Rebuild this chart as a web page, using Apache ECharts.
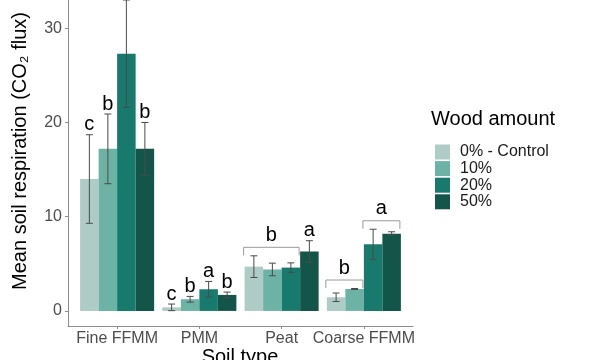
<!DOCTYPE html>
<html>
<head>
<meta charset="utf-8">
<script src="https://cdn.jsdelivr.net/npm/echarts@6/dist/echarts.min.js"></script>
<style>html,body{margin:0;padding:0;background:#fff}#c{width:600px;height:360px}</style>
</head>
<body>
<div id="c"></div>
<script>
// ---- data ----
var categories = ['Fine FFMM', 'PMM', 'Peat', 'Coarse FFMM'];
var seriesNames = ['0% - Control', '10%', '20%', '50%'];
var mean0  = [14.0, 0.38, 4.7, 1.45];
var mean10 = [17.2, 1.24, 4.4, 2.33];
var mean20 = [27.3, 2.3, 4.6, 7.07];
var mean50 = [17.2, 1.7, 6.3, 8.2];
var se0  = [4.7, 0.35, 1.15, 0.45];
var se10 = [3.7, 0.3, 0.67, 0.05];
var se20 = [5.7, 0.83, 0.5, 1.6];
var se50 = [2.8, 0.3, 1.15, 0.2];
var yTicks = [0, 10, 20, 30];
// single letters: [category index, series index, letter]
var letters = [
  [0, 0, 'c'], [0, 1, 'b'], [0, 2, 'a'], [0, 3, 'b'],
  [1, 0, 'c'], [1, 1, 'b'], [1, 2, 'a'], [1, 3, 'b'],
  [2, 3, 'a']
];
// bracket groups: [category index, first series, last series, letter]
var brackets = [
  [2, 0, 2, 'b'],
  [3, 0, 1, 'b'],
  [3, 2, 3, 'a']
];

var colors = ['#aecbc6', '#6cb3a5', '#177a6c', '#135649'];
var means = [mean0, mean10, mean20, mean50];
var ses = [se0, se10, se20, se50];
var FONT = 'Liberation Sans, Arial, sans-serif';
var YMIN = -1.6, YMAX = 33;

function offs(s) { return -0.3375 + 0.225 * s; }

var errData = [];
for (var s = 0; s < 4; s++) for (var c = 0; c < 4; c++) errData.push([c, s, means[s][c], ses[s][c]]);

var chart = echarts.init(document.getElementById('c'), null, {renderer: 'canvas'});

var series = [];
for (var i = 0; i < 4; i++) {
  series.push({
    type: 'bar', name: seriesNames[i], data: means[i],
    xAxisIndex: 1, yAxisIndex: 1,
    barCategoryGap: '10%', barGap: '0%',
    itemStyle: {color: colors[i]}, emphasis: {disabled: true}, silent: true
  });
}
series.push({
  type: 'custom', xAxisIndex: 1, yAxisIndex: 1, silent: true, z: 5,
  data: errData,
  renderItem: function (params, api) {
    var cat = api.value(0), s = api.value(1), m = api.value(2), e = api.value(3);
    var band = api.size([1, 0])[0];
    var cx = api.coord([cat, 0])[0] + offs(s) * band;
    var yt = api.coord([cat, m + e])[1], yb = api.coord([cat, m - e])[1];
    var hw = 3.5;
    var st = {stroke: '#4a4a4a', lineWidth: 1};
    return {type: 'group', children: [
      {type: 'line', shape: {x1: cx, y1: yt, x2: cx, y2: yb}, style: st},
      {type: 'line', shape: {x1: cx - hw, y1: yt, x2: cx + hw, y2: yt}, style: st},
      {type: 'line', shape: {x1: cx - hw, y1: yb, x2: cx + hw, y2: yb}, style: st}
    ]};
  }
});
series.push({
  type: 'custom', xAxisIndex: 1, yAxisIndex: 1, silent: true, z: 6,
  data: letters.map(function (l) { return [l[0], l[1]]; }),
  renderItem: function (params, api) {
    var l = letters[params.dataIndex];
    var cat = l[0], s = l[1];
    var band = api.size([1, 0])[0];
    var cx = api.coord([cat, 0])[0] + offs(s) * band;
    var yt = api.coord([cat, means[s][cat] + ses[s][cat]])[1];
    return {type: 'text', x: cx, y: yt, style: {text: l[2], fill: '#000', font: '20px ' + FONT, align: 'center', verticalAlign: 'bottom'}};
  }
});
series.push({
  type: 'custom', xAxisIndex: 1, yAxisIndex: 1, silent: true, z: 6,
  data: brackets.map(function (b) { return [b[0], b[1]]; }),
  renderItem: function (params, api) {
    var b = brackets[params.dataIndex];
    var cat = b[0];
    var band = api.size([1, 0])[0];
    var bw = 0.225 * band;
    var c0 = api.coord([cat, 0])[0];
    var x1 = c0 + offs(b[1]) * band - bw / 2 - 1;
    var x2 = c0 + offs(b[2]) * band + bw / 2 - 1;
    var top = -Infinity;
    for (var s = b[1]; s <= b[2]; s++) top = Math.max(top, means[s][cat] + ses[s][cat]);
    var y = api.coord([cat, top + 0.9])[1];
    var st = {stroke: '#9a9a9a', lineWidth: 1, fill: null};
    return {type: 'group', children: [
      {type: 'polyline', shape: {points: [[x1, y + 8], [x1, y], [x2, y], [x2, y + 8]]}, style: st},
      {type: 'text', x: (x1 + x2) / 2, y: y - 2, style: {text: b[3], fill: '#000', font: '20px ' + FONT, align: 'center', verticalAlign: 'bottom'}}
    ]};
  }
});

chart.setOption({
  animation: false,
  backgroundColor: '#fff',
  grid: [
    {left: 68, right: 187, top: 0, bottom: 34},
    {left: 76, right: 195, top: 0, bottom: 34}
  ],
  xAxis: [
    {type: 'value', gridIndex: 0, min: 0, max: 1,
     axisLine: {show: true, onZero: false, lineStyle: {color: '#8c8c8c', width: 1}},
     axisTick: {show: false}, axisLabel: {show: false}, splitLine: {show: false}},
    {type: 'category', gridIndex: 1, data: categories,
     axisLine: {show: false, onZero: false},
     axisTick: {show: true, alignWithLabel: true, length: 3, interval: 0, lineStyle: {color: '#8c8c8c'}},
     axisLabel: {fontSize: 16, color: '#4d4d4d', fontFamily: FONT, margin: 5, interval: 0, hideOverlap: false}}
  ],
  yAxis: [
    {type: 'value', gridIndex: 0, min: YMIN, max: YMAX,
     axisLine: {show: true, onZero: false, lineStyle: {color: '#8c8c8c', width: 1}},
     axisTick: {show: true, length: 3, customValues: yTicks, lineStyle: {color: '#8c8c8c'}},
     axisLabel: {fontSize: 16, color: '#4d4d4d', fontFamily: FONT, margin: 6, customValues: yTicks},
     splitLine: {show: false}},
    {type: 'value', gridIndex: 1, min: YMIN, max: YMAX, show: false, splitLine: {show: false}}
  ],
  legend: {
    data: seriesNames, orient: 'vertical', left: 430, top: 139,
    icon: 'rect', itemWidth: 15, itemHeight: 15, itemGap: 0.6,
    selectedMode: false,
    textStyle: {fontSize: 16, color: '#1a1a1a', fontFamily: FONT, lineHeight: 16, padding: [0, 0, 0, 5]}
  },
  graphic: [
    {type: 'text', x: 20, y: 151, rotation: Math.PI / 2,
     style: {text: 'Mean soil respiration (CO\u2082 flux)', font: '20px ' + FONT, fill: '#000', align: 'center', verticalAlign: 'middle'}},
    {type: 'text', x: 240, y: 347,
     style: {text: 'Soil type', font: '20px ' + FONT, fill: '#000', align: 'center', verticalAlign: 'top'}},
    {type: 'text', x: 431, y: 119,
     style: {text: 'Wood amount', font: '20px ' + FONT, fill: '#000', align: 'left', verticalAlign: 'middle'}}
  ],
  series: series
});
</script>
</body>
</html>
